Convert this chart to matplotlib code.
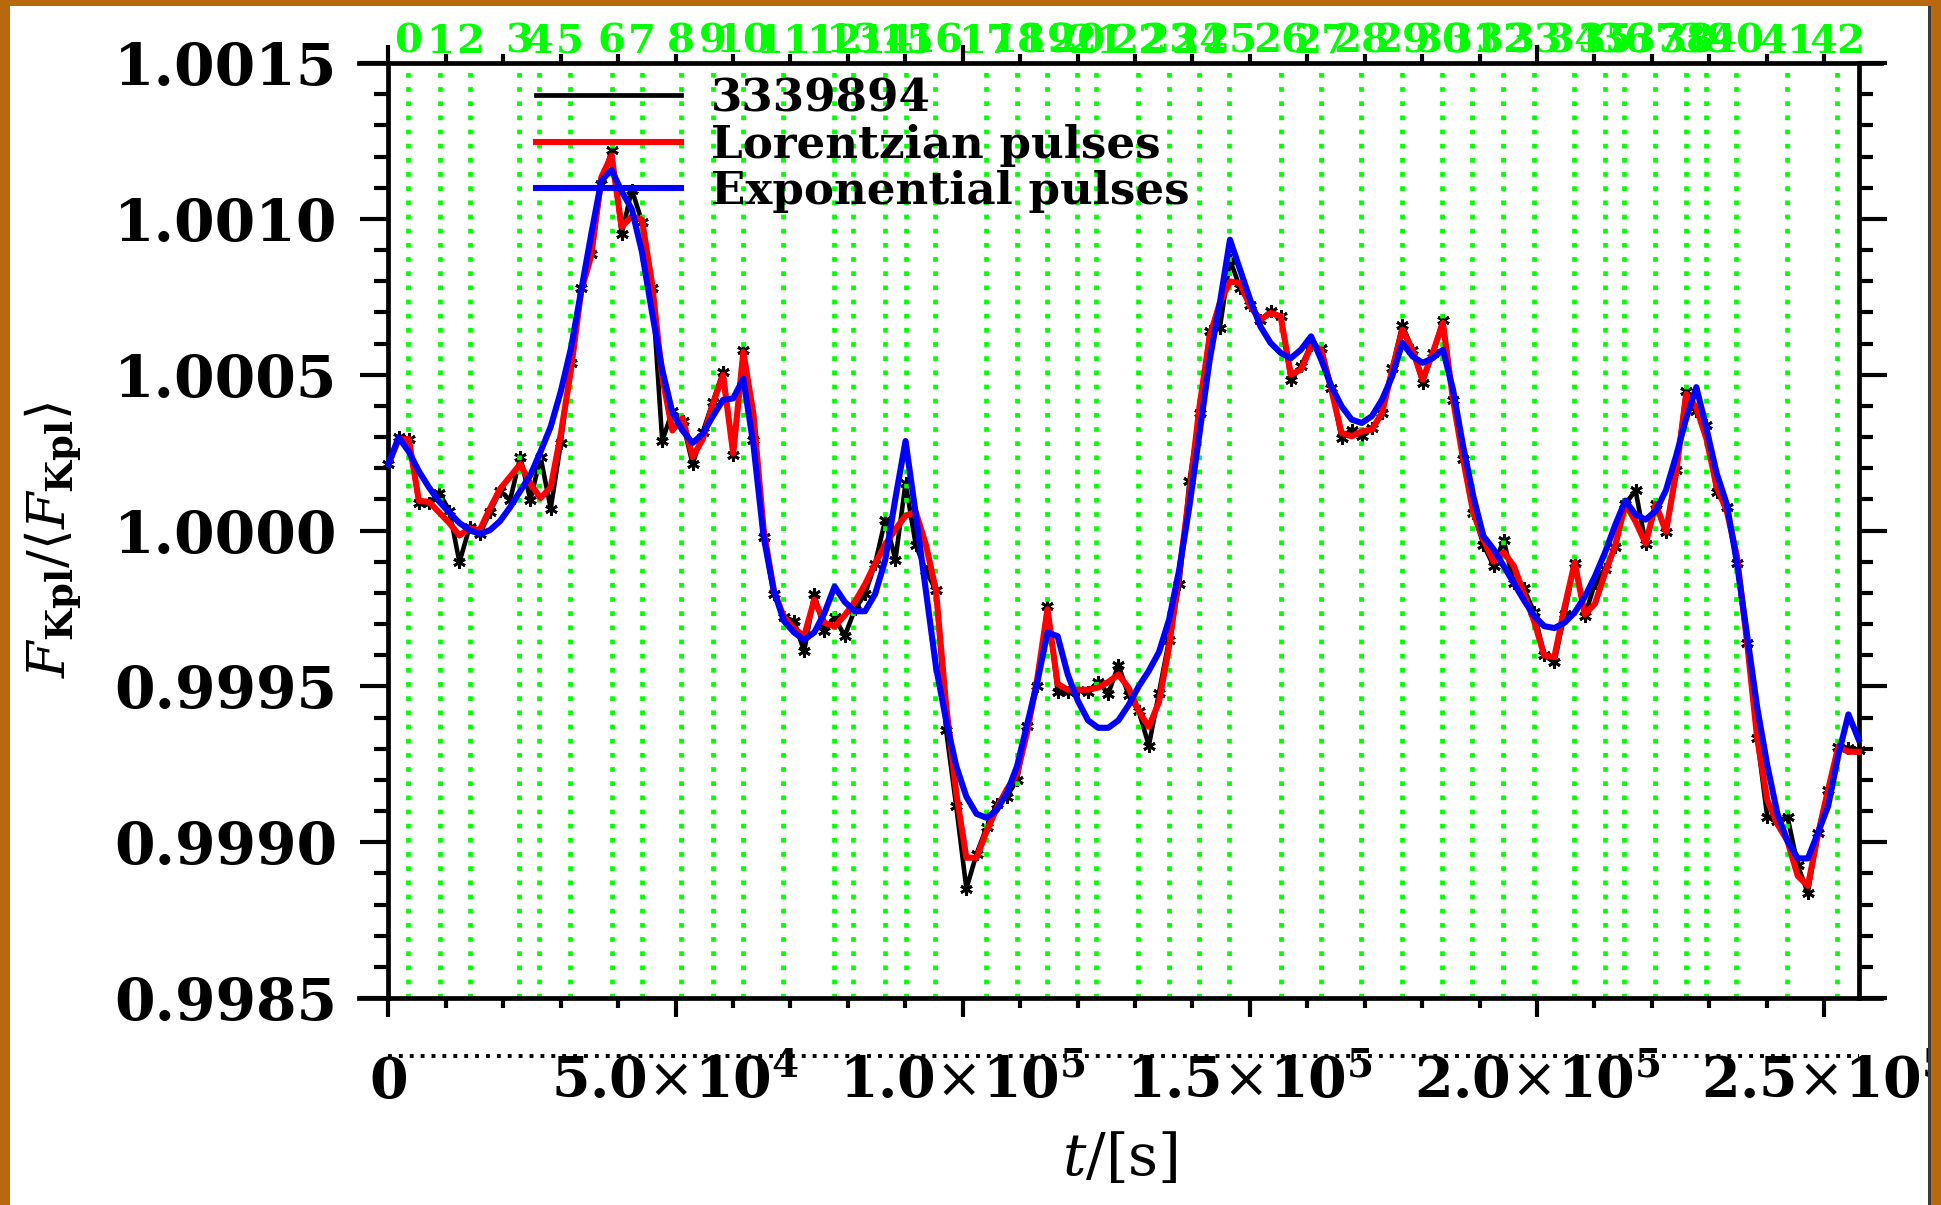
import numpy as np
import matplotlib.pyplot as plt
from matplotlib.lines import Line2D
from matplotlib.patches import Rectangle
from matplotlib.ticker import MultipleLocator, FuncFormatter

plt.rcParams['font.family'] = 'DejaVu Serif'
plt.rcParams['mathtext.fontset'] = 'dejavuserif'

# Kepler long cadence sampling
cadence = 1765.46
n_points = 146
t = np.arange(n_points) * cadence

# relative flux minus one, in ppm
flux_ppm = [213, 299, 293, 87, 87, 121, 64, -102, 12, -11,
            58, 127, 98, 236, 98, 236, 70, 281, 539, 779,
            888, 1111, 1220, 951, 1094, 991, 779, 287, 384, 350,
            213, 316, 413, 510, 241, 579, 290, -20, -204, -278,
            -290, -388, -204, -321, -278, -339, -253, -204, -106, 35,
            -94, 152, -45, -130, -192, -640, -885, -1149, -1038, -952,
            -879, -854, -799, -627, -498, -241, -517, -517, -511, -517,
            -486, -523, -431, -529, -580, -690, -520, -350, -173, 158,
            377, 639, 650, 869, 778, 724, 676, 703, 687, 484,
            527, 596, 586, 457, 297, 324, 302, 329, 377, 521,
            660, 580, 473, 570, 676, 420, 228, 57, -45, -114,
            -31, -169, -186, -263, -401, -423, -269, -103, -274, -169,
            -125, -53, 85, 129, -42, 85, -4, 195, 449, 383,
            338, 123, 74, -103, -362, -666, -920, -931, -920, -1074,
            -1163, -969, -831, -694, -699, -705]

lorentz_ppm = [213, 293, 293, 95, 92, 58, 24, -16, 7, 1,
               70, 133, 173, 213, 150, 104, 139, 310, 516, 768,
               882, 1134, 1203, 974, 1008, 997, 791, 493, 321, 361,
               236, 293, 407, 499, 247, 573, 372, 4, -192, -278,
               -314, -339, -222, -296, -308, -272, -229, -173, -106, -45,
               4, 47, 60, -45, -192, -560, -842, -1050, -1050, -965,
               -891, -830, -781, -646, -474, -253, -492, -511, -511, -511,
               -504, -486, -462, -505, -580, -630, -550, -371, -136, 121,
               399, 623, 730, 799, 794, 719, 676, 698, 687, 500,
               516, 591, 580, 452, 313, 302, 318, 324, 377, 516,
               644, 580, 484, 570, 666, 420, 228, 57, -29, -100,
               -70, -114, -202, -291, -401, -406, -246, -103, -269, -235,
               -136, -48, 85, 29, -42, 85, -4, 184, 438, 394,
               294, 140, 63, -81, -357, -666, -865, -942, -997, -1108,
               -1140, -975, -831, -694, -710, -710]

expo_ppm = [213, 299, 253, 190, 138, 93, 58, 24, 1, -11,
            1, 30, 75, 127, 178, 253, 333, 447, 585, 768,
            951, 1123, 1157, 1088, 1031, 894, 699, 516, 379, 321,
            281, 310, 367, 419, 424, 487, 274, -20, -192, -290,
            -327, -351, -327, -265, -180, -229, -259, -259, -204, -94,
            103, 287, 54, -192, -437, -609, -756, -854, -909, -922,
            -897, -842, -756, -621, -486, -327, -339, -462, -547, -609,
            -633, -633, -609, -560, -500, -450, -390, -285, -125, 78,
            313, 548, 730, 933, 837, 740, 655, 602, 570, 553,
            580, 623, 548, 463, 399, 356, 345, 367, 420, 495,
            602, 559, 538, 553, 580, 452, 270, 110, -18, -60,
            -114, -169, -224, -274, -307, -313, -296, -263, -213, -147,
            -70, 18, 96, 51, 35, 63, 129, 239, 360, 460,
            327, 184, 85, -103, -335, -567, -754, -909, -997, -1052,
            -1052, -970, -884, -722, -590, -670]

# pulse onset times [s], numbered along the top axis
pulse_times = [3396, 8968, 14193, 22725, 26208, 31606, 38920, 44145, 50936,
               56509, 61733, 68698, 77580, 80888, 86461, 90118, 95168,
               104049, 109447, 114671, 119896, 123204, 130518, 135916,
               141141, 146365, 155420, 162386, 169351, 176491, 183457,
               188681, 194079, 199478, 206443, 211841, 215150, 220548,
               225947, 229429, 234654, 243535, 252242]

labels = ['3339894', 'Lorentzian pulses', 'Exponential pulses']

flux = 1 + np.array(flux_ppm) * 1e-6
lorentz = 1 + np.array(lorentz_ppm) * 1e-6
expo = 1 + np.array(expo_ppm) * 1e-6

fig = plt.figure(figsize=(19.41, 12.05), dpi=100)
ax = fig.add_axes([0.18506, 0.17178, 0.78403, 0.77593])

ax.plot(t, flux, color='black', lw=3.3, marker=(6, 2, 0), ms=9, mew=2, zorder=1)
for tp in pulse_times:
    ax.axvline(tp, color='#00ff00', lw=3.4, ls=(0, (1, 2.0)), zorder=2)
ax.plot(t, lorentz, color='red', lw=4.4, zorder=3)
ax.plot(t, expo, color='blue', lw=4.4, zorder=4)

ax.set_xlim(-5100, 259900)
ax.set_ylim(0.9985, 1.0015)

# y axes sit at the ends of the time series
ax.spines['left'].set_position(('data', t[0]))
ax.spines['right'].set_position(('data', t[-1]))
ax.spines['top'].set_visible(False)
for s in ['left', 'right', 'bottom']:
    ax.spines[s].set_linewidth(3.4)

ax.yaxis.set_major_locator(MultipleLocator(0.0005))
ax.yaxis.set_minor_locator(MultipleLocator(0.0001))
ax.yaxis.set_major_formatter(FuncFormatter(lambda v, p: f'{v:.4f}'))
ax.xaxis.set_major_locator(MultipleLocator(5e4))
ax.xaxis.set_minor_locator(MultipleLocator(1e4))


def sci_fmt(v, pos):
    if v == 0:
        return r'$\mathbf{0}$'
    e = int(np.floor(np.log10(abs(v))))
    return r'$\mathbf{%.1f}{\times}\mathbf{10}^{\mathbf{%d}}$' % (v / 10**e, e)


ax.xaxis.set_major_formatter(FuncFormatter(sci_fmt))

ax.tick_params(axis='y', which='major', direction='out', length=20, width=3.0,
               left=True, right=True, labelsize=42, pad=17)
ax.tick_params(axis='y', which='minor', direction='out', length=10, width=3.0,
               left=True, right=True)
ax.tick_params(axis='x', which='major', direction='out', length=14, width=3.0,
               bottom=True, top=False, labelsize=40, pad=27)
ax.tick_params(axis='x', which='minor', direction='out', length=7, width=3.0,
               bottom=True, top=False)
for lab in ax.get_yticklabels():
    lab.set_fontweight('bold')

# top axis: plain ticks, pulse numbers written above
ax2 = ax.twiny()
ax2.set_xlim(ax.get_xlim())
for s in ['left', 'right', 'bottom']:
    ax2.spines[s].set_visible(False)
ax2.spines['top'].set_linewidth(3.4)
ax2.xaxis.set_major_locator(MultipleLocator(1e5))
ax2.xaxis.set_minor_locator(MultipleLocator(1e4))
ax2.tick_params(axis='x', which='major', direction='out', length=13, width=3.0,
                labeltop=False)
ax2.tick_params(axis='x', which='minor', direction='out', length=6.5, width=3.0)

for k, tp in enumerate(pulse_times):
    ax.text(tp, 1.0225, str(k), transform=ax.get_xaxis_transform(),
            ha='center', va='center', color='#00ff00', fontsize=29,
            fontweight='bold', clip_on=False)

# dotted guide under the time axis
ax.plot([t[0], t[-1]], [-0.062, -0.062], transform=ax.get_xaxis_transform(),
        color='black', lw=2.8, ls=(0, (1, 1.8)), clip_on=False)

ax.set_ylabel(r'$F_{\mathbf{Kpl}}/\langle F_{\mathbf{Kpl}}\rangle$', fontsize=38)
ax.yaxis.set_label_coords(-0.2012, 0.49)
ax.yaxis.label.set_va('center')
ax.set_xlabel(r'$t/[\mathrm{s}]$', fontsize=42)
ax.xaxis.set_label_coords(0.5, -0.142)

handles = [Line2D([], [], color='black', lw=3.4),
           Line2D([], [], color='red', lw=4.4),
           Line2D([], [], color='blue', lw=4.4)]
leg = ax.legend(handles, labels, loc='upper left', bbox_to_anchor=(0.1162, 0.985),
                frameon=False, borderpad=0, borderaxespad=0, handlelength=3.22,
                handletextpad=0.66, labelspacing=0.08,
                prop=dict(family='DejaVu Serif', weight='bold', size=32.5))
leg.set_zorder(10)

# frame around the picture
border = '#b8690e'
fig.add_artist(Rectangle((0, 0), 10 / 1941, 1, transform=fig.transFigure,
                         color=border, lw=0))
fig.add_artist(Rectangle((0, 1 - 6 / 1205), 1, 6 / 1205, transform=fig.transFigure,
                         color=border, lw=0))
fig.add_artist(Rectangle((1931 / 1941, 0), 10 / 1941, 1, transform=fig.transFigure,
                         color=border, lw=0))
fig.add_artist(Rectangle((1928 / 1941, 0), 3 / 1941, 1 - 6 / 1205,
                         transform=fig.transFigure, color='#3a3a3a', lw=0))

fig.savefig('out.png', dpi=100)
